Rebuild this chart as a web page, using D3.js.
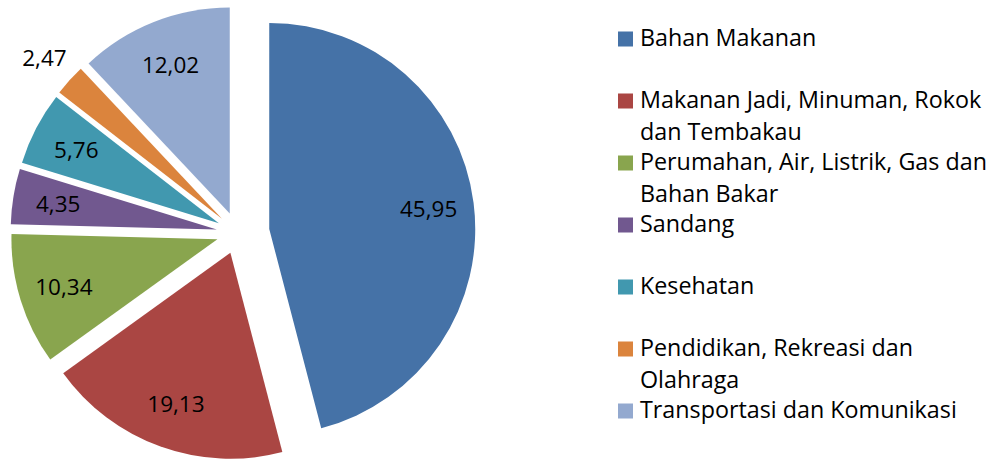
<!DOCTYPE html>
<html>
<head>
<meta charset="utf-8">
<script src="https://cdn.jsdelivr.net/npm/d3@7"></script>
<style>
  body { margin: 0; background: #fff; }
  svg { display: block; }
  text { font-family: "Open Sans", "Noto Sans", sans-serif; fill: #000; }
</style>
</head>
<body>
<div id="container"></div>
<script>
// Chart data
var categories = [
  'Bahan Makanan',
  'Makanan Jadi, Minuman, Rokok dan Tembakau',
  'Perumahan, Air, Listrik, Gas dan Bahan Bakar',
  'Sandang',
  'Kesehatan',
  'Pendidikan, Rekreasi dan Olahraga',
  'Transportasi dan Komunikasi'
];
var values = [45.95, 19.13, 10.34, 4.35, 5.76, 2.47, 12.02];
// legend text as it wraps in the original
var legendLines = [
  ['Bahan Makanan'],
  ['Makanan Jadi, Minuman, Rokok', 'dan Tembakau'],
  ['Perumahan, Air, Listrik, Gas dan', 'Bahan Bakar'],
  ['Sandang'],
  ['Kesehatan'],
  ['Pendidikan, Rekreasi dan', 'Olahraga'],
  ['Transportasi dan Komunikasi']
];
var colours = ['#4572A7', '#AA4643', '#89A54E', '#71588F', '#4198AF', '#DB843D', '#93A9CF'];

// Plot constants
var width = 996,
height = 460,
cx = 237.5,
cy = 233,
radius = 206;

var svg = d3.select('#container').append('svg').attr('width', width).attr('height', height);

var pie = d3.pie().sort(null).value(d => d)(values);
var arc = d3.arc().innerRadius(0).outerRadius(radius);

// first slice pulled further out than the rest
function explodeBy(i) {
  return i === 0 ? 32 : 21;
}

function offset(d, dist) {
  var a = (d.startAngle + d.endAngle) / 2;
  return [Math.sin(a) * dist, -Math.cos(a) * dist];
}

var slices = svg.append('g').attr('transform', 'translate(' + cx + ',' + cy + ')').
selectAll('g').
data(pie).
enter().
append('g').
attr('transform', function (d, i) {
  var o = offset(d, explodeBy(i));
  return 'translate(' + o[0] + ',' + o[1] + ')';
});

slices.append('path').
attr('d', arc).
attr('fill', (d, i) => colours[i]);

// data labels; tiny slices get their label outside
slices.append('text').
attr('text-anchor', 'middle').
attr('dominant-baseline', 'central').
attr('font-size', 22.5).
attr('transform', function (d) {
  var share = (d.endAngle - d.startAngle) / (2 * Math.PI);
  var o = offset(d, share < 0.03 ? radius * 1.165 : radius * 0.78);
  return 'translate(' + o[0] + ',' + o[1] + ')';
}).
text(d => d.data.toFixed(2).replace('.', ','));

// Legend
var legend = svg.append('g').attr('transform', 'translate(618,0)');

legend.selectAll('g').data(categories).enter().append('g').each(function (d, i) {
  var g = d3.select(this);
  var base = 46 + i * 62;
  g.append('rect').
  attr('x', 0).
  attr('y', base - 14.5).
  attr('width', 15).
  attr('height', 15).
  attr('fill', colours[i]);
  legendLines[i].forEach(function (line, j) {
    g.append('text').
    attr('x', 22).
    attr('y', base + j * 32).
    attr('font-size', 23.3).
    text(line);
  });
});
</script>
</body>
</html>
